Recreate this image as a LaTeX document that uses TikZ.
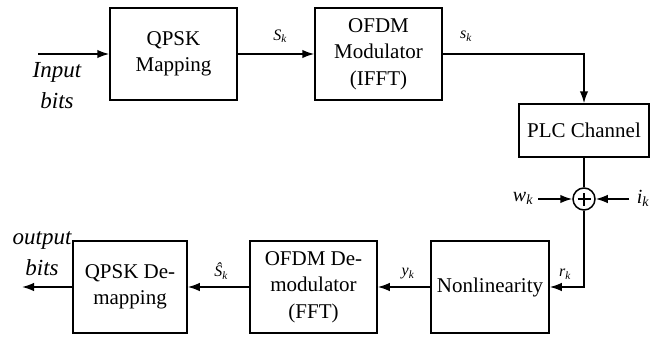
\documentclass[tikz,border=0pt]{standalone}
\usepackage{fontspec}
\setmainfont{Liberation Serif}
\usetikzlibrary{arrows.meta,positioning}
\begin{document}
\begin{tikzpicture}[x=1pt,y=-1pt,
  line width=1.5pt,
  >={Latex[length=12pt,width=8.5pt]},
  block/.style={draw,rectangle,inner sep=0pt,align=center,
    font=\fontsize{21}{26.5}\selectfont},
  sumnode/.style={draw,circle,minimum size=22pt,inner sep=0pt},
  sig/.style={font=\fontsize{16}{18}\selectfont\itshape},
  sigbig/.style={font=\fontsize{20}{22}\selectfont\itshape},
  io/.style={font=\fontsize{23}{31}\selectfont\itshape,align=center}]
\useasboundingbox (0,0) rectangle (650,337);

% transmitter chain
\node[block,minimum width=127pt,minimum height=92pt] (qmap) at (173.5,54) {QPSK\\Mapping};
\node[block,minimum width=127pt,minimum height=92pt] (mod) at (378.5,54) {OFDM\\Modulator\\(IFFT)};
\node[block,minimum width=130pt,minimum height=53pt] (plc) at (584,130.5) {PLC Channel};

% noise summation
\node[sumnode] (sum) at (584,199) {};
\draw[line width=2pt] ([xshift=-6.5pt]sum.center) -- ([xshift=6.5pt]sum.center);
\draw[line width=2pt] ([yshift=-6.5pt]sum.center) -- ([yshift=6.5pt]sum.center);

% receiver chain
\node[block,minimum width=118pt,minimum height=92pt] (nl) at (490,287) {Nonlinearity};
\node[block,minimum width=127pt,minimum height=92pt] (demod) at (313.5,287) {OFDM De-\\modulator\\(FFT)};
\node[block,minimum width=114pt,minimum height=92pt] (qdemap) at (130,287) {QPSK De-\\mapping};

% input / output
\coordinate (in) at (38,54);
\coordinate (out) at (22,287);
\node[io] (inlbl) at (57,86) {Input\\bits};
\node[io] (outlbl) at (42,254) {output\\bits};

% noise sources
\coordinate (wsrc) at (538,199);
\coordinate (isrc) at (629,199);
\node[sigbig] (wlbl) at (523,198) {w\textsubscript{k}};
\node[sigbig] (ilbl) at (643,198) {i\textsubscript{k}};

% connections
\draw[->] (in) -- (qmap.west);
\draw[->] (qmap.east) -- (mod.west);
\draw[->] (mod.east) -| (plc.north);
\draw (plc.south) -- (sum.north);
\draw[->] (wsrc) -- (sum.west);
\draw[->] (isrc) -- (sum.east);
\draw[->] (sum.south) |- (nl.east);
\draw[->] (nl.west) -- (demod.east);
\draw[->] (demod.west) -- (qdemap.east);
\draw[->] (qdemap.west) -- (out);

% signal labels
\node[sig] (Sk) at (280,36) {S\textsubscript{k}};
\node[sig] (sk) at (466,36) {s\textsubscript{k}};
\node[sig] (rk) at (565,274) {r\textsubscript{k}};
\node[sig] (yk) at (408,274) {y\textsubscript{k}};
\node[sig] (Shk) at (221,271) {Ŝ\textsubscript{k}};
\end{tikzpicture}
\end{document}
